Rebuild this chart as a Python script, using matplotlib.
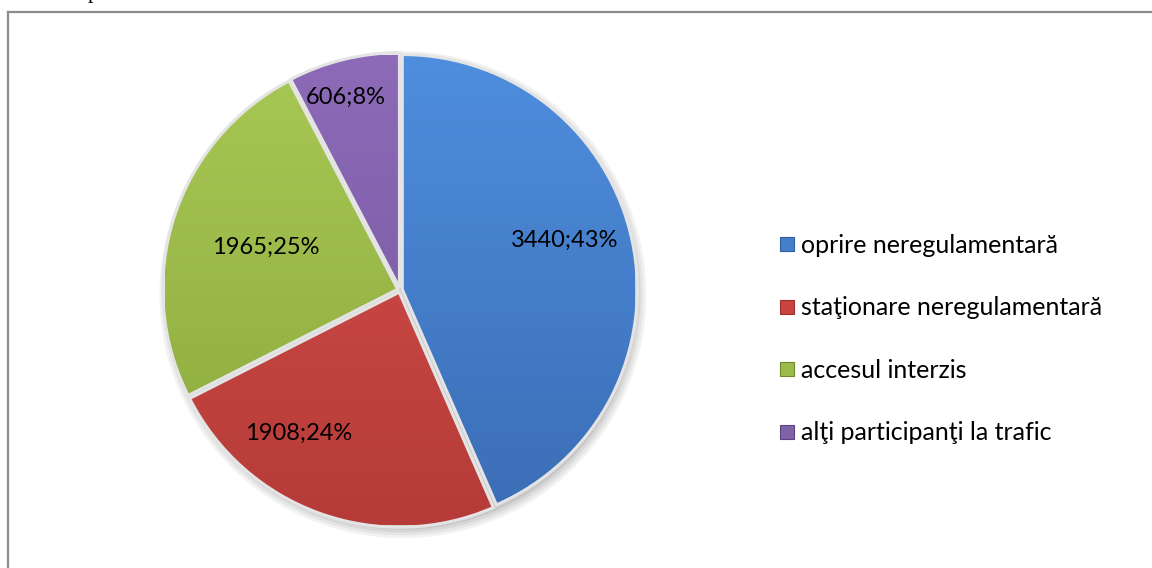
import numpy as np
import matplotlib.pyplot as plt
from matplotlib.lines import Line2D
from matplotlib.patches import Circle
from matplotlib.colors import LinearSegmentedColormap

# data
categories = ['oprire neregulamentară', 'staţionare neregulamentară',
              'accesul interzis', 'alţi participanţi la trafic']
counts = [3440, 1908, 1965, 606]

# (top, bottom) shades per slice, mimicking Excel's gradient fill
shades = [('#4f8fdf', '#3a6cb4'), ('#d6504c', '#b53b38'),
          ('#a9c955', '#8aa83c'), ('#8d6bb8', '#74549f')]
marker_fc = ['#4680cc', '#c9433f', '#9bbb4a', '#8062a8']
marker_ec = ['#2f5f9e', '#9e2f2c', '#6f8a2e', '#5b4380']
# label anchors in pie-radius units (Excel "best fit" placement)
label_xy = [(0.70, 0.21), (-0.43, -0.61), (-0.57, 0.18), (-0.23, 0.82)]

plt.rcParams['font.family'] = ['Lato', 'DejaVu Sans']

fig = plt.figure(figsize=(11.52, 5.68), dpi=100)
W, H = 1152, 568

# pie axes: centre ~ (400, 290) px, radius ~ 235 px
cx, cy, R = 400, 290, 235
ax = fig.add_axes([(cx - R) / W, (H - cy - R) / H, 2 * R / W, 2 * R / H])

total = sum(counts)
pct = [round(100 * c / total) for c in counts]

wedges, _ = ax.pie(counts, colors=['none'] * 4, startangle=90,
                   counterclock=False, explode=[0.01] * 4, radius=1,
                   wedgeprops=dict(edgecolor='#e4e4e4', linewidth=2.2,
                                   zorder=3))

# soft shadow under the pie
for k, a in enumerate([0.05, 0.05, 0.06, 0.07]):
    ax.add_patch(Circle((0.012, -0.02), 1.0 + 0.012 * (3 - k), color='black',
                        alpha=a, lw=0, zorder=0, clip_on=False))

grad = np.linspace(0, 1, 256).reshape(-1, 1)
for w, (top, bot) in zip(wedges, shades):
    w.set_clip_on(False)
    cmap = LinearSegmentedColormap.from_list('g', [top, bot])
    im = ax.imshow(grad, extent=(-1.05, 1.05, -1.05, 1.05), cmap=cmap,
                   origin='upper', aspect='auto', zorder=2)
    im.set_clip_path(w)
    im.set_clip_on(True)

ax.set_xlim(-1, 1)
ax.set_ylim(-1, 1)
ax.set_aspect('equal')
ax.axis('off')

for (x, y), c, p in zip(label_xy, counts, pct):
    ax.text(x, y, f'{c};{p}%', ha='center', va='center', fontsize=17,
            color='black', zorder=5)

# legend
handles = [Line2D([], [], marker='s', linestyle='none', markersize=10,
                  markerfacecolor=c, markeredgecolor=e, markeredgewidth=0.8)
           for c, e in zip(marker_fc, marker_ec)]
fig.legend(handles, categories, loc='center left',
           bbox_to_anchor=(766 / W, (H - 339) / H), frameon=False,
           fontsize=18, labelspacing=1.58, handletextpad=0.1,
           handlelength=0.9, borderaxespad=0)

# chart frame (left and top edges visible)
fig.add_artist(Line2D([7.5 / W, 7.5 / W], [0, (H - 12) / H], color='#8c8c8c',
                      lw=1.6, transform=fig.transFigure))
fig.add_artist(Line2D([7.5 / W, 1], [(H - 12) / H, (H - 12) / H],
                      color='#8c8c8c', lw=1.6, transform=fig.transFigure))

# cut-off text from page above
fig.text(93 / W, 1 + 2 / H, 'p', family='Liberation Serif', fontsize=16,
         va='baseline', ha='center')

fig.savefig('out.png', dpi=100)
